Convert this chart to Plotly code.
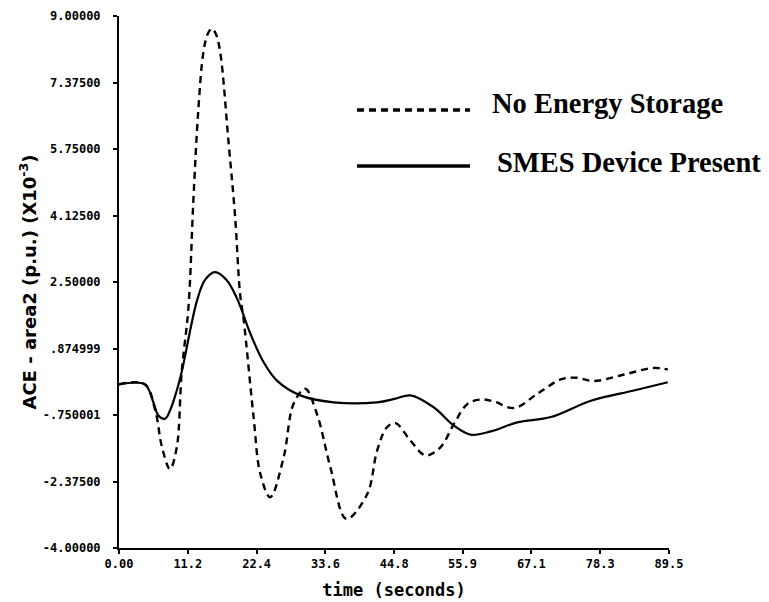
import plotly.graph_objects as go

# Time axis (seconds) and ACE for area 2 (p.u. x 10^-3)
t_smes = [0, 4.2, 5.6, 6.4, 7.5, 8.3, 9.4, 10.2, 12.7, 14.0, 15.6, 17.5, 19.2,
          21.4, 23.5, 25.7, 29.5, 34.9, 42.0, 45.0, 47.4, 51.2, 54.5, 57.2,
          60.5, 64.8, 70.3, 76.8, 83.8, 89.3]
ace_smes = [0, 0, -0.44, -0.76, -0.84, -0.64, -0.15, 0.30, 2.05, 2.55, 2.74,
            2.55, 2.10, 1.23, 0.55, 0.09, -0.27, -0.44, -0.44, -0.35, -0.27,
            -0.56, -1.01, -1.23, -1.15, -0.93, -0.80, -0.40, -0.15, 0.05]

t_none = [0, 4.2, 5.9, 7.0, 8.3, 9.4, 10.2, 11.3, 12.1, 12.9, 13.7, 14.4, 15.1,
          15.8, 16.5, 17.8, 18.9, 19.7, 20.3, 21.9, 23.0, 24.6, 26.8, 28.4, 30.3,
          32.2, 34.4, 37.0, 40.4, 42.0, 43.6, 45.0, 47.4, 49.9, 52.3, 54.5,
          56.7, 58.9, 61.0, 64.3, 68.1, 71.9, 74.5, 77.3, 82.2, 87.0, 89.3]
ace_none = [0, 0, -0.64, -1.54, -2.07, -1.54, 0.30, 1.88, 4.49, 6.69, 8.08,
            8.55, 8.69, 8.55, 8.08, 5.96, 4.08, 2.21, 1.56, -0.80, -2.19, -2.76,
            -1.78, -0.48, -0.11, -0.72, -2.03, -3.29, -2.68, -1.62, -1.05, -0.95,
            -1.37, -1.74, -1.54, -0.97, -0.48, -0.37, -0.42, -0.58, -0.23,
            0.12, 0.16, 0.08, 0.24, 0.40, 0.36]

x_ticks = [0.0, 11.2, 22.4, 33.6, 44.8, 55.9, 67.1, 78.3, 89.5]
x_labels = ["0.00", "11.2", "22.4", "33.6", "44.8", "55.9", "67.1", "78.3", "89.5"]
y_ticks = [-4.0, -2.375, -0.750001, 0.874999, 2.5, 4.125, 5.75, 7.375, 9.0]
y_labels = ["-4.00000", "-2.37500", "-.750001", ".874999", "2.50000",
            "4.12500", "5.75000", "7.37500", "9.00000"]

series_names = ["No Energy Storage", "SMES Device Present"]

W, H = 769, 602
L, R, T, B = 119, 100, 16, 54

fig = go.Figure()
fig.add_trace(go.Scatter(x=t_none, y=ace_none, mode="lines", name=series_names[0],
                         line=dict(color="black", width=2.4, dash="7px,5px",
                                   shape="spline", smoothing=1.0)))
fig.add_trace(go.Scatter(x=t_smes, y=ace_smes, mode="lines", name=series_names[1],
                         line=dict(color="black", width=2.2,
                                   shape="spline", smoothing=1.0)))

tickfont = dict(family="DejaVu Sans Mono", size=12, color="black", weight="bold")
xtitlefont = dict(family="DejaVu Sans Mono", size=17, color="black", weight="bold")
ytitlefont = dict(family="DejaVu Sans", size=18, color="black", weight="bold")

fig.update_xaxes(range=[0, 89.5], tickvals=x_ticks, ticktext=x_labels,
                 showgrid=False, zeroline=False, showline=True, linecolor="black",
                 linewidth=2, ticks="outside", ticklen=4, tickwidth=2, tickcolor="black",
                 tickfont=tickfont, automargin=False,
                 title=dict(text="time (seconds)", font=xtitlefont, standoff=14))
fig.update_yaxes(range=[-4, 9], tickvals=y_ticks, ticktext=y_labels,
                 showgrid=False, zeroline=False, showline=True, linecolor="black",
                 linewidth=2, ticks="outside", ticklen=4, tickwidth=2, tickcolor="black",
                 tickfont=tickfont, automargin=False, ticklabelstandoff=10,
                 title=dict(text="ACE - area2 (p.u.) (X10<sup>-3</sup>)",
                            font=ytitlefont, standoff=2))


def px_to_paper(px, py):
    return (px - L) / (W - L - R), (H - B - py) / (H - T - B)


# Legend drawn beside the curves: line sample plus serif label
legend_rows = [(110, "7px,5px", 3.5), (166, "solid", 3.5)]
text_pos = [(490, 103), (495, 163)]
for (ly, dash, lw), (tx, ty), name in zip(legend_rows, text_pos, series_names):
    x0, y0 = px_to_paper(357, ly)
    x1, _ = px_to_paper(470, ly)
    fig.add_shape(type="line", xref="paper", yref="paper", x0=x0, x1=x1, y0=y0, y1=y0,
                  line=dict(color="black", width=lw, dash=dash))
    ax, ay = px_to_paper(tx, ty)
    fig.add_annotation(xref="paper", yref="paper", x=ax, y=ay, text=name,
                       showarrow=False, xanchor="left", yanchor="middle",
                       font=dict(family="Liberation Serif", size=28.5, color="black",
                                 weight="bold"))

fig.update_layout(width=W, height=H, margin=dict(l=L, r=R, t=T, b=B),
                  paper_bgcolor="white", plot_bgcolor="white", showlegend=False)

fig.write_html("out.html")
